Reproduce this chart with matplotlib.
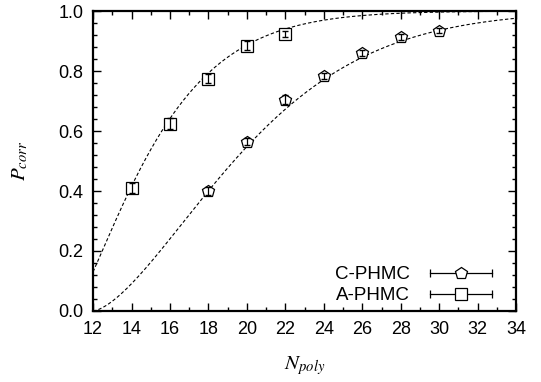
import numpy as np
import matplotlib
matplotlib.use("Agg")
import matplotlib.pyplot as plt
from matplotlib.lines import Line2D
from matplotlib.legend_handler import HandlerLine2D, HandlerTuple
from matplotlib.ticker import MultipleLocator, FormatStrFormatter

plt.rcParams['font.family'] = ['Liberation Sans', 'DejaVu Sans']
plt.rcParams['mathtext.fontset'] = 'stix'

# measured points
c_n = [18, 20, 22, 24, 26, 28, 30]
c_p = [0.400, 0.565, 0.705, 0.785, 0.860, 0.915, 0.935]
c_err = [0.012, 0.012, 0.015, 0.010, 0.010, 0.010, 0.008]

a_n = [14, 16, 18, 20, 22]
a_p = [0.410, 0.625, 0.775, 0.885, 0.925]
a_err = [0.018, 0.018, 0.015, 0.015, 0.010]

# fit parameters, P = 1 - exp(-((N - n0)/scale)^shape)
c_fit = (12.0, 9.3, 1.53)
a_fit = (10.9, 5.0, 1.30)


def fit_curve(n, n0, scale, shape):
    z = np.clip(n - n0, 0, None) / scale
    return 1 - np.exp(-z ** shape)


fig = plt.figure(figsize=(5.41, 3.82), dpi=100)
ax = fig.add_axes([0.172, 0.186, 0.782, 0.785])

nn = np.linspace(12, 34, 400)
ax.plot(nn, fit_curve(nn, *c_fit), color='k', lw=0.8, dashes=(3, 2))
ax.plot(nn, fit_curve(nn, *a_fit), color='k', lw=0.8, dashes=(3, 2))

mk = dict(ls='none', ms=9, mfc='white', mec='k', mew=0.9, zorder=3)
ax.plot(c_n, c_p, marker='p', **mk)
ax.plot(a_n, a_p, marker='s', **mk)
ax.errorbar(c_n, c_p, yerr=c_err, fmt='none', ecolor='k', elinewidth=0.9,
            capsize=2.5, zorder=4)
ax.errorbar(a_n, a_p, yerr=a_err, fmt='none', ecolor='k', elinewidth=0.9,
            capsize=2.5, zorder=4)

ax.set_xlim(12, 34)
ax.set_ylim(0, 1)
ax.xaxis.set_major_locator(MultipleLocator(2))
ax.xaxis.set_minor_locator(MultipleLocator(1))
ax.yaxis.set_major_locator(MultipleLocator(0.2))
ax.yaxis.set_minor_locator(MultipleLocator(0.04))
ax.yaxis.set_major_formatter(FormatStrFormatter('%.1f'))
ax.tick_params(which='both', direction='in', top=True, right=True,
               labelsize=13, width=1)
ax.tick_params(which='major', length=6, pad=7)
ax.tick_params(which='minor', length=3)
for s in ax.spines.values():
    s.set_linewidth(1.6)

ax.set_xlabel('$N_{poly}$', fontsize=15, labelpad=12)
ax.set_ylabel('$P_{corr}$', fontsize=15, labelpad=20)

# gnuplot-style legend: horizontal bar with caps plus marker
bar = Line2D([], [], color='k', lw=0.9, marker='|', ms=6, mew=0.9)
c_mark = Line2D([], [], ls='none', marker='p', ms=9, mfc='white', mec='k', mew=0.9)
a_mark = Line2D([], [], ls='none', marker='s', ms=9, mfc='white', mec='k', mew=0.9)
one = HandlerLine2D(numpoints=1)
leg = ax.legend([(bar, c_mark), (bar, a_mark)], ['C-PHMC', 'A-PHMC'],
                loc='lower right', bbox_to_anchor=(0.972, 0.0),
                numpoints=2, markerfirst=False,
                frameon=False, fontsize=13.5, handlelength=3.9,
                handletextpad=0.77, labelspacing=0.22,
                borderaxespad=0.0, borderpad=0.35,
                handler_map={c_mark: one, a_mark: one,
                             tuple: HandlerTuple(ndivide=1)})

fig.savefig('out.png', dpi=100)
